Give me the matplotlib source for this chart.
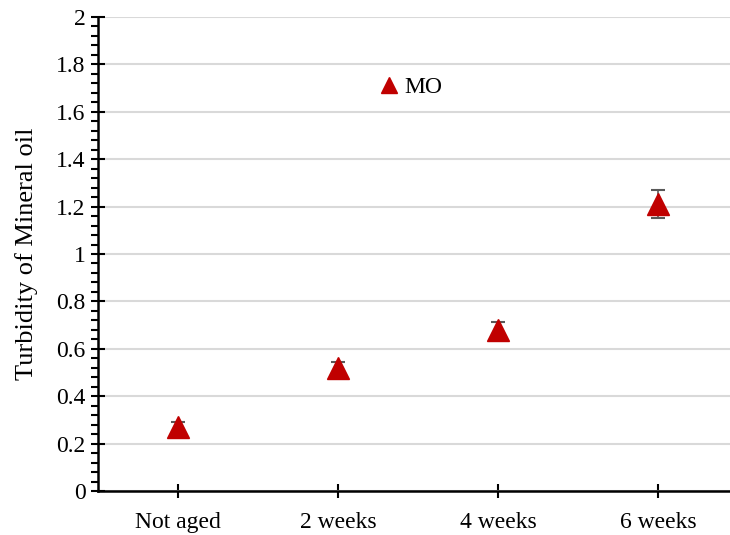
import matplotlib.pyplot as plt
from matplotlib.ticker import MultipleLocator

# Data
categories = ["Not aged", "2 weeks", "4 weeks", "6 weeks"]
turbidity = [0.27, 0.52, 0.68, 1.21]
errors = [0.02, 0.025, 0.035, 0.06]
y_ticks = [0, 0.2, 0.4, 0.6, 0.8, 1, 1.2, 1.4, 1.6, 1.8, 2]
y_labels = ['0', '0.2', '0.4', '0.6', '0.8', '1', '1.2', '1.4', '1.6', '1.8', '2']

plt.rcParams['font.family'] = ['Liberation Serif', 'DejaVu Serif']

fig = plt.figure(figsize=(7.3, 5.35), dpi=100)
ax = fig.add_axes([98 / 730, 1 - 491 / 535, 640 / 730, 474 / 535])

x = list(range(len(categories)))
ax.errorbar(x, turbidity, yerr=errors, fmt='none', ecolor='#595959',
            elinewidth=1.2, capsize=5, capthick=1.5, zorder=3)
ax.plot(x, turbidity, linestyle='none', marker='^', ms=16.5, color='#C00000',
        label='MO', zorder=4)

ax.set_xticks(x)
ax.set_xticklabels(categories)
ax.set_yticks(y_ticks)
ax.set_yticklabels(y_labels)
ax.yaxis.set_minor_locator(MultipleLocator(0.04))
ax.set_xlim(-0.5, 3.5)
ax.set_ylim(0, 2)

ax.grid(axis='y', color='#d9d9d9', linewidth=1.5)
ax.set_axisbelow(True)

for s in ['top', 'right']:
    ax.spines[s].set_visible(False)
for s in ['left', 'bottom']:
    ax.spines[s].set_linewidth(1.8)

ax.tick_params(axis='both', which='major', direction='inout', length=10,
               width=1.5, labelsize=17)
ax.tick_params(axis='y', which='minor', direction='out', length=5, width=1.5)
ax.tick_params(axis='y', pad=4)
ax.tick_params(axis='x', pad=10)

ax.set_ylabel("Turbidity of Mineral oil", fontsize=19, labelpad=13)

ax.legend(loc='center left', bbox_to_anchor=(381 / 730, 1 - 87 / 535),
          bbox_transform=fig.transFigure, frameon=False, fontsize=17,
          markerscale=0.7, handlelength=0.7, handletextpad=0.3,
          borderpad=0, borderaxespad=0)

fig.savefig("out.png", dpi=100)
